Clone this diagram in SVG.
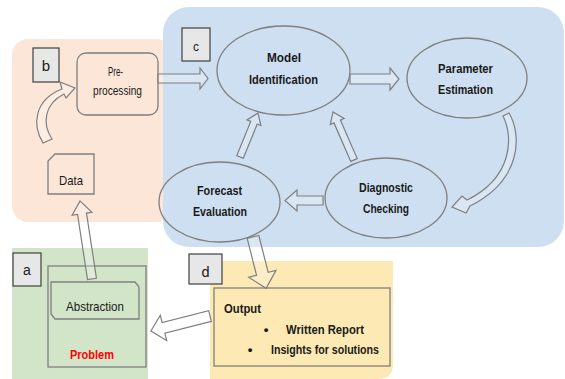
<svg xmlns="http://www.w3.org/2000/svg" width="565" height="379" viewBox="0 0 565 379">
<style>
.st{fill:none;stroke:#7f7f7f;stroke-width:1.3}
.ar{fill:#ffffff;fill-opacity:0.25;stroke:#7f7f7f;stroke-width:1.2;stroke-linejoin:miter}
.lb{fill:#e7e7e7;stroke:#404040;stroke-width:1.2}
.t{font-family:"Liberation Sans",Arial,sans-serif;font-size:13.5px;fill:#1a1a1a;text-anchor:middle}
.b{font-weight:bold}
.ell{fill:none;stroke:#7f7f7f;stroke-width:1.3}
</style>
<rect width="565" height="379" fill="#ffffff"/>
<g id="region-b"><rect x="12" y="39" width="160" height="183" rx="16" fill="#fbe6d8"/></g>
<g id="region-c"><rect x="163" y="7" width="401" height="240" rx="26" fill="#cddff0"/></g>
<g id="region-a"><rect x="12" y="248" width="136" height="132" fill="#d3e5c9"/></g>
<g id="region-d"><path d="M210,261 H393 V364 Q393,379 378,379 H210 Z" fill="#fde9b4"/></g>

<g id="label-b"><rect class="lb" x="33" y="48" width="26" height="34"/><text class="t" x="46" y="71" style="font-size:15px">b</text></g>
<g id="label-c"><rect class="lb" x="182" y="28" width="28" height="33"/><text class="t" x="196" y="51" style="font-size:12px">c</text></g>
<g id="label-a"><rect class="lb" x="13" y="253" width="28" height="33"/><text class="t" x="27" y="275" style="font-size:14px">a</text></g>
<g id="label-d"><rect class="lb" x="189" y="254" width="33" height="30"/><text class="t" x="205.5" y="276.5" style="font-size:14.5px">d</text></g>

<g id="preprocessing">
<rect class="st" x="77" y="53" width="81" height="62" rx="9" fill="#fbe6d8"/>
<text class="t" x="115.5" y="76" textLength="15" lengthAdjust="spacingAndGlyphs">Pre-</text>
<text class="t" x="117.5" y="95" textLength="49" lengthAdjust="spacingAndGlyphs">processing</text>
</g>
<g id="data">
<path class="st" d="M55,154 H94 V194 H48 V161 Z"/>
<text class="t" x="71" y="184.5" textLength="24" lengthAdjust="spacingAndGlyphs">Data</text>
</g>
<g id="model-identification">
<ellipse class="ell" cx="283.5" cy="70.5" rx="66.5" ry="44.5"/>
<text class="t b" x="284" y="62" textLength="34" lengthAdjust="spacingAndGlyphs">Model</text>
<text class="t b" x="283.5" y="83.5" textLength="69" lengthAdjust="spacingAndGlyphs">Identification</text>
</g>
<g id="parameter-estimation">
<ellipse class="ell" cx="467" cy="78" rx="60" ry="40"/>
<text class="t b" x="465.5" y="73" textLength="55" lengthAdjust="spacingAndGlyphs">Parameter</text>
<text class="t b" x="465.5" y="94" textLength="55" lengthAdjust="spacingAndGlyphs">Estimation</text>
</g>
<g id="forecast-evaluation">
<ellipse class="ell" cx="219.5" cy="202" rx="60.5" ry="40"/>
<text class="t b" x="219.5" y="195" textLength="45" lengthAdjust="spacingAndGlyphs">Forecast</text>
<text class="t b" x="220" y="216" textLength="54" lengthAdjust="spacingAndGlyphs">Evaluation</text>
</g>
<g id="diagnostic-checking">
<ellipse class="ell" cx="386" cy="198" rx="61" ry="40"/>
<text class="t b" x="386" y="192" textLength="54" lengthAdjust="spacingAndGlyphs">Diagnostic</text>
<text class="t b" x="386" y="213" textLength="46" lengthAdjust="spacingAndGlyphs">Checking</text>
</g>
<g id="problem">
<rect class="st" x="48" y="266" width="98" height="101"/>
<path class="st" d="M51,282 H135 L139,287 V319 H55 L51,314 Z"/>
<text class="t" x="95" y="311" textLength="58" lengthAdjust="spacingAndGlyphs">Abstraction</text>
<text class="t b" x="92" y="359" style="fill:#ff0000" textLength="44" lengthAdjust="spacingAndGlyphs">Problem</text>
</g>
<g id="output">
<rect class="st" x="214" y="288" width="176" height="78"/>
<text class="t b" x="224" y="313" style="text-anchor:start" textLength="37" lengthAdjust="spacingAndGlyphs">Output</text>
<text class="t b" x="266" y="334">•</text>
<text class="t b" x="286" y="334" style="text-anchor:start" textLength="78" lengthAdjust="spacingAndGlyphs">Written Report</text>
<text class="t b" x="250" y="354">•</text>
<text class="t b" x="271" y="354" style="text-anchor:start" textLength="108" lengthAdjust="spacingAndGlyphs">Insights for solutions</text>
</g>

<g id="connectors">
<polygon class="ar" points="158,74 200,74 200,68 208,78.5 200,89 200,83 158,83"/>
<polygon class="ar" points="350,74 390,74 390,68 399,79 390,90 390,84 350,84"/>
<polygon class="ar" points="323,196 297,196 297,190 285,200.5 297,211 297,205 323,205"/>
<polygon class="ar" transform="translate(240,157) rotate(-67.8)" points="0,-3.5 37,-3.5 37,-7.5 47.5,0 37,7.5 37,3.5 0,3.5"/>
<polygon class="ar" transform="translate(354,160) rotate(-113.6)" points="0,-3.5 42,-3.5 42,-7.5 52.4,0 42,7.5 42,3.5 0,3.5"/>
<polygon class="ar" transform="translate(253,237) rotate(75.7)" points="0,-6 38,-6 38,-14 53,0 38,14 38,6 0,6"/>
<polygon class="ar" transform="translate(210,316) rotate(165.7)" points="0,-5.5 48,-5.5 48,-13 61,0 48,13 48,5.5 0,5.5"/>
<polygon class="ar" transform="translate(92,279) rotate(-98.7)" points="0,-4.5 66,-4.5 66,-10 79,0 66,10 66,4.5 0,4.5"/>
<path class="ar" d="M43,143 C32,125 34,100 62,89 L60,82 L75,88 L66,98 L64,94 C44,104 42,124 52,139 Z"/>
<path class="ar" d="M503,116 L509,113 C522,135 522,180 470,206 L466,213 L452,207 L462,196 L467,200 C512,178 514,138 503,116 Z"/>
</g>
</svg>
